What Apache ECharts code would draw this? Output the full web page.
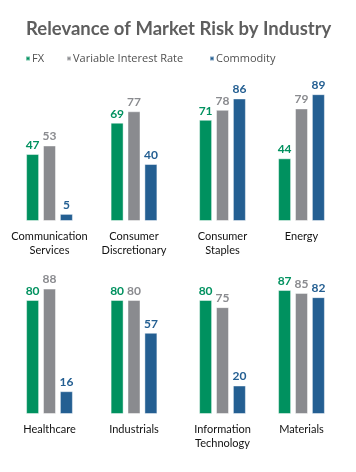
<!DOCTYPE html>
<html>
<head>
<meta charset="utf-8">
<script src="https://cdn.jsdelivr.net/npm/echarts@6/dist/echarts.min.js"></script>
<style>html,body{margin:0;padding:0;background:#fff;}#c{width:356px;height:472px;}</style>
</head>
<body>
<div id="c"></div>
<script>
const titleText = 'Relevance of Market Risk by Industry';
const categories = ['Communication\nServices', 'Consumer\nDiscretionary', 'Consumer\nStaples', 'Energy',
  'Healthcare', 'Industrials', 'Information\nTechnology', 'Materials'];
const seriesNames = ['FX', 'Variable Interest Rate', 'Commodity'];
const fxValues = [47, 69, 71, 44, 80, 80, 80, 87];
const rateValues = [53, 77, 78, 79, 88, 80, 75, 85];
const commodityValues = [5, 40, 86, 89, 16, 57, 20, 82];

const colors = ['#00915f', '#8a8b8f', '#245f92'];
const values = [fxValues, rateValues, commodityValues];
const centers = [49.5, 134, 222.5, 301.5];
const rowTops = [78.5, 271.5];
const font = 'Lato';

const grids = [], xAxes = [], yAxes = [], series = [];
categories.forEach((cat, i) => {
  const row = Math.floor(i / 4), col = i % 4;
  grids.push({ left: centers[col] - 40, width: 80, top: rowTops[row], height: 142.5 });
  xAxes.push({
    type: 'category', gridIndex: i, data: [cat],
    axisLine: { show: false }, axisTick: { show: false },
    axisLabel: { color: '#111', fontFamily: font, fontSize: 11, lineHeight: 14, margin: 8, interval: 0 }
  });
  yAxes.push({ type: 'value', gridIndex: i, min: 0, max: 100, show: false });
  seriesNames.forEach((name, s) => {
    series.push({
      name, type: 'bar', xAxisIndex: i, yAxisIndex: i,
      data: [values[s][i]], barWidth: 13, barGap: '30%',
      itemStyle: { color: colors[s], borderColor: 'rgba(255,255,255,0.45)', borderWidth: 1 },
      label: { show: true, position: 'top', distance: 3, color: colors[s], fontFamily: font, fontWeight: 'bold', fontSize: 12 }
    });
  });
});

const legendLefts = [20, 61, 204];
const legends = seriesNames.map((n, k) => ({
  data: [n], left: legendLefts[k], top: 48, icon: 'rect', itemWidth: 4, itemHeight: 4,
  selectedMode: false,
  textStyle: { color: '#505050', fontFamily: 'Open Sans', fontSize: 11, padding: [0, 0, 0, -3] }
}));

const chart = echarts.init(document.getElementById('c'), null, { renderer: 'canvas' });
chart.setOption({
  animation: false,
  color: colors,
  title: { text: titleText, left: 21, top: 15, textStyle: { color: '#5e5e5e', fontFamily: font, fontWeight: 'bold', fontSize: 18.5 } },
  legend: legends,
  grid: grids, xAxis: xAxes, yAxis: yAxes, series
});
</script>
</body>
</html>
